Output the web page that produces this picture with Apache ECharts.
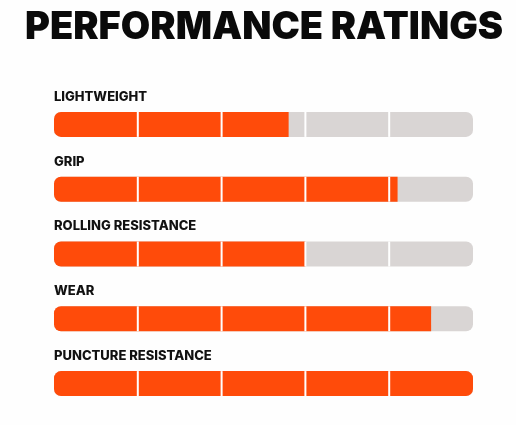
<!DOCTYPE html>
<html>
<head>
<meta charset="utf-8">
<script src="https://cdn.jsdelivr.net/npm/echarts@6/dist/echarts.min.js"></script>
<style>
html,body{margin:0;padding:0;background:#fefefe;}
#chart{width:516px;height:425px;}
</style>
</head>
<body>
<div id="chart"></div>
<script>
const categories = ['LIGHTWEIGHT', 'GRIP', 'ROLLING RESISTANCE', 'WEAR', 'PUNCTURE RESISTANCE'];
const ratings = [2.8, 4.1, 3.0, 4.5, 5.0];
const maxRating = 5;
const dividers = [1, 2, 3, 4];

const ORANGE = '#FF4B0A';
const GRAY = '#D9D5D4';
const R = 7;

const chart = echarts.init(document.getElementById('chart'), null, {renderer: 'canvas'});

const option = {
  backgroundColor: '#fefefe',
  animation: false,
  title: {
    text: 'PERFORMANCE RATINGS',
    left: 20,
    top: 4,
    textStyle: {
      fontFamily: 'Inter',
      fontWeight: 900,
      fontSize: 38,
      color: '#0a0a0a'
    }
  },
  grid: {left: 54, right: 43, top: 92, bottom: 9},
  xAxis: {
    type: 'value', min: 0, max: maxRating, interval: 1,
    show: false
  },
  yAxis: {
    type: 'category', data: categories, inverse: true,
    show: false
  },
  series: [
    {
      type: 'bar',
      barWidth: 25,
      data: ratings.map(v => ({
        value: v,
        itemStyle: {borderRadius: v >= maxRating ? [R, R, R, R] : [R, 0, 0, R]}
      })),
      itemStyle: {color: ORANGE},
      showBackground: true,
      backgroundStyle: {color: GRAY, borderRadius: R},
      label: {
        show: true,
        position: [0, -15],
        align: 'left',
        verticalAlign: 'middle',
        formatter: p => categories[p.dataIndex],
        fontFamily: 'Inter',
        fontWeight: 800,
        fontSize: 13,
        color: '#111'
      },
      z: 2
    },
    {
      type: 'custom',
      z: 5,
      data: categories.map((c, i) => i),
      renderItem: function (params, api) {
        const idx = api.value(0);
        const h = 25;
        const children = dividers.map(d => {
          const p = api.coord([d, idx]);
          return {
            type: 'line',
            shape: {x1: p[0], y1: p[1] - h / 2, x2: p[0], y2: p[1] + h / 2},
            style: {stroke: '#ffffff', lineWidth: 2}
          };
        });
        return {type: 'group', children: children};
      },
      encode: {y: 0},
      silent: true
    }
  ]
};
chart.setOption(option);
</script>
</body>
</html>
